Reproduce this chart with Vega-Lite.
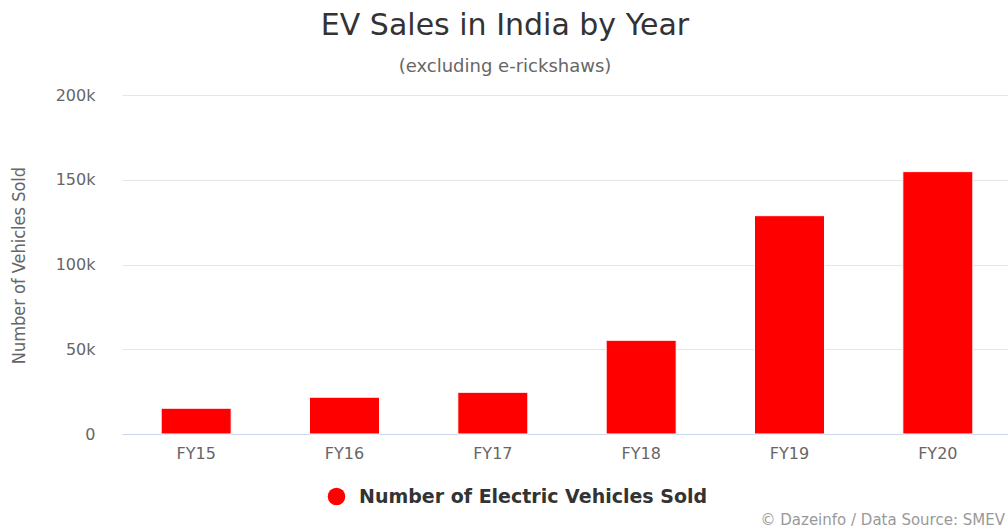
{
  "$schema": "https://vega.github.io/schema/vega-lite/v6.json",
  "width": 886,
  "height": 339,
  "autosize": {"type": "none"},
  "padding": {"left": 122, "top": 95, "right": 0, "bottom": 94},
  "background": "#ffffff",
  "title": {
    "text": "EV Sales in India by Year",
    "subtitle": "(excluding e-rickshaws)",
    "anchor": "middle",
    "dx": -60,
    "offset": 11,
    "font": "DejaVu Sans",
    "fontSize": 30,
    "fontWeight": "normal",
    "color": "#333333",
    "subtitleFont": "DejaVu Sans",
    "subtitleFontSize": 18,
    "subtitleColor": "#666666",
    "subtitlePadding": 17
  },
  "data": {
    "values": [
      {"year": "FY15", "sold": 15200, "series": "Number of Electric Vehicles Sold"},
      {"year": "FY16", "sold": 21700, "series": "Number of Electric Vehicles Sold"},
      {"year": "FY17", "sold": 24600, "series": "Number of Electric Vehicles Sold"},
      {"year": "FY18", "sold": 55300, "series": "Number of Electric Vehicles Sold"},
      {"year": "FY19", "sold": 128800, "series": "Number of Electric Vehicles Sold"},
      {"year": "FY20", "sold": 154800, "series": "Number of Electric Vehicles Sold"}
    ]
  },
  "mark": {"type": "bar", "stroke": "#ffffff", "strokeWidth": 1},
  "encoding": {
    "x": {
      "field": "year",
      "type": "nominal",
      "sort": null,
      "scale": {"range": [0, 890], "paddingInner": 0.528, "paddingOuter": 0.264},
      "axis": {
        "title": "© Dazeinfo / Data Source: SMEV",
        "titleFont": "DejaVu Sans",
        "titleFontSize": 15,
        "titleFontWeight": "normal",
        "titleColor": "#999999",
        "titleAnchor": "start",
        "titleAlign": "left",
        "titleBaseline": "alphabetic",
        "titleX": 638,
        "titleY": 90,
        "labelAngle": 0,
        "labelFont": "DejaVu Sans",
        "labelFontSize": 16,
        "labelColor": "#666666",
        "labelPadding": 11,
        "ticks": false,
        "domain": true,
        "domainColor": "#ccd6eb",
        "domainWidth": 1,
        "grid": false
      }
    },
    "y": {
      "field": "sold",
      "type": "quantitative",
      "scale": {"domain": [0, 200000], "nice": false},
      "axis": {
        "values": [0, 50000, 100000, 150000, 200000],
        "labelExpr": "datum.value == 0 ? '0' : (datum.value / 1000) + 'k'",
        "title": "Number of Vehicles Sold",
        "titleFont": "DejaVu Sans Condensed, Liberation Sans Narrow, Roboto Condensed, Roboto, sans-serif",
        "titleFontSize": 18,
        "titleFontWeight": "normal",
        "titleColor": "#666666",
        "titleX": -103,
        "titleY": 170,
        "titleAngle": -90,
        "titleAlign": "center",
        "titleBaseline": "middle",
        "labelFont": "DejaVu Sans",
        "labelFontSize": 16,
        "labelColor": "#666666",
        "labelPadding": 27,
        "ticks": false,
        "domain": false,
        "grid": true,
        "gridColor": "#e6e6e6",
        "gridWidth": 1
      }
    },
    "color": {
      "field": "series",
      "type": "nominal",
      "scale": {"range": ["#ff0000"]},
      "legend": {
        "title": null,
        "orient": "none",
        "legendX": 205,
        "legendY": 392,
        "symbolType": "circle",
        "symbolSize": 310,
        "symbolStrokeWidth": 0,
        "labelFont": "DejaVu Sans",
        "labelFontSize": 19,
        "labelFontWeight": "bold",
        "labelColor": "#333333",
        "labelLimit": 500,
        "labelOffset": 13
      }
    }
  },
  "config": {"view": {"stroke": null}}
}
